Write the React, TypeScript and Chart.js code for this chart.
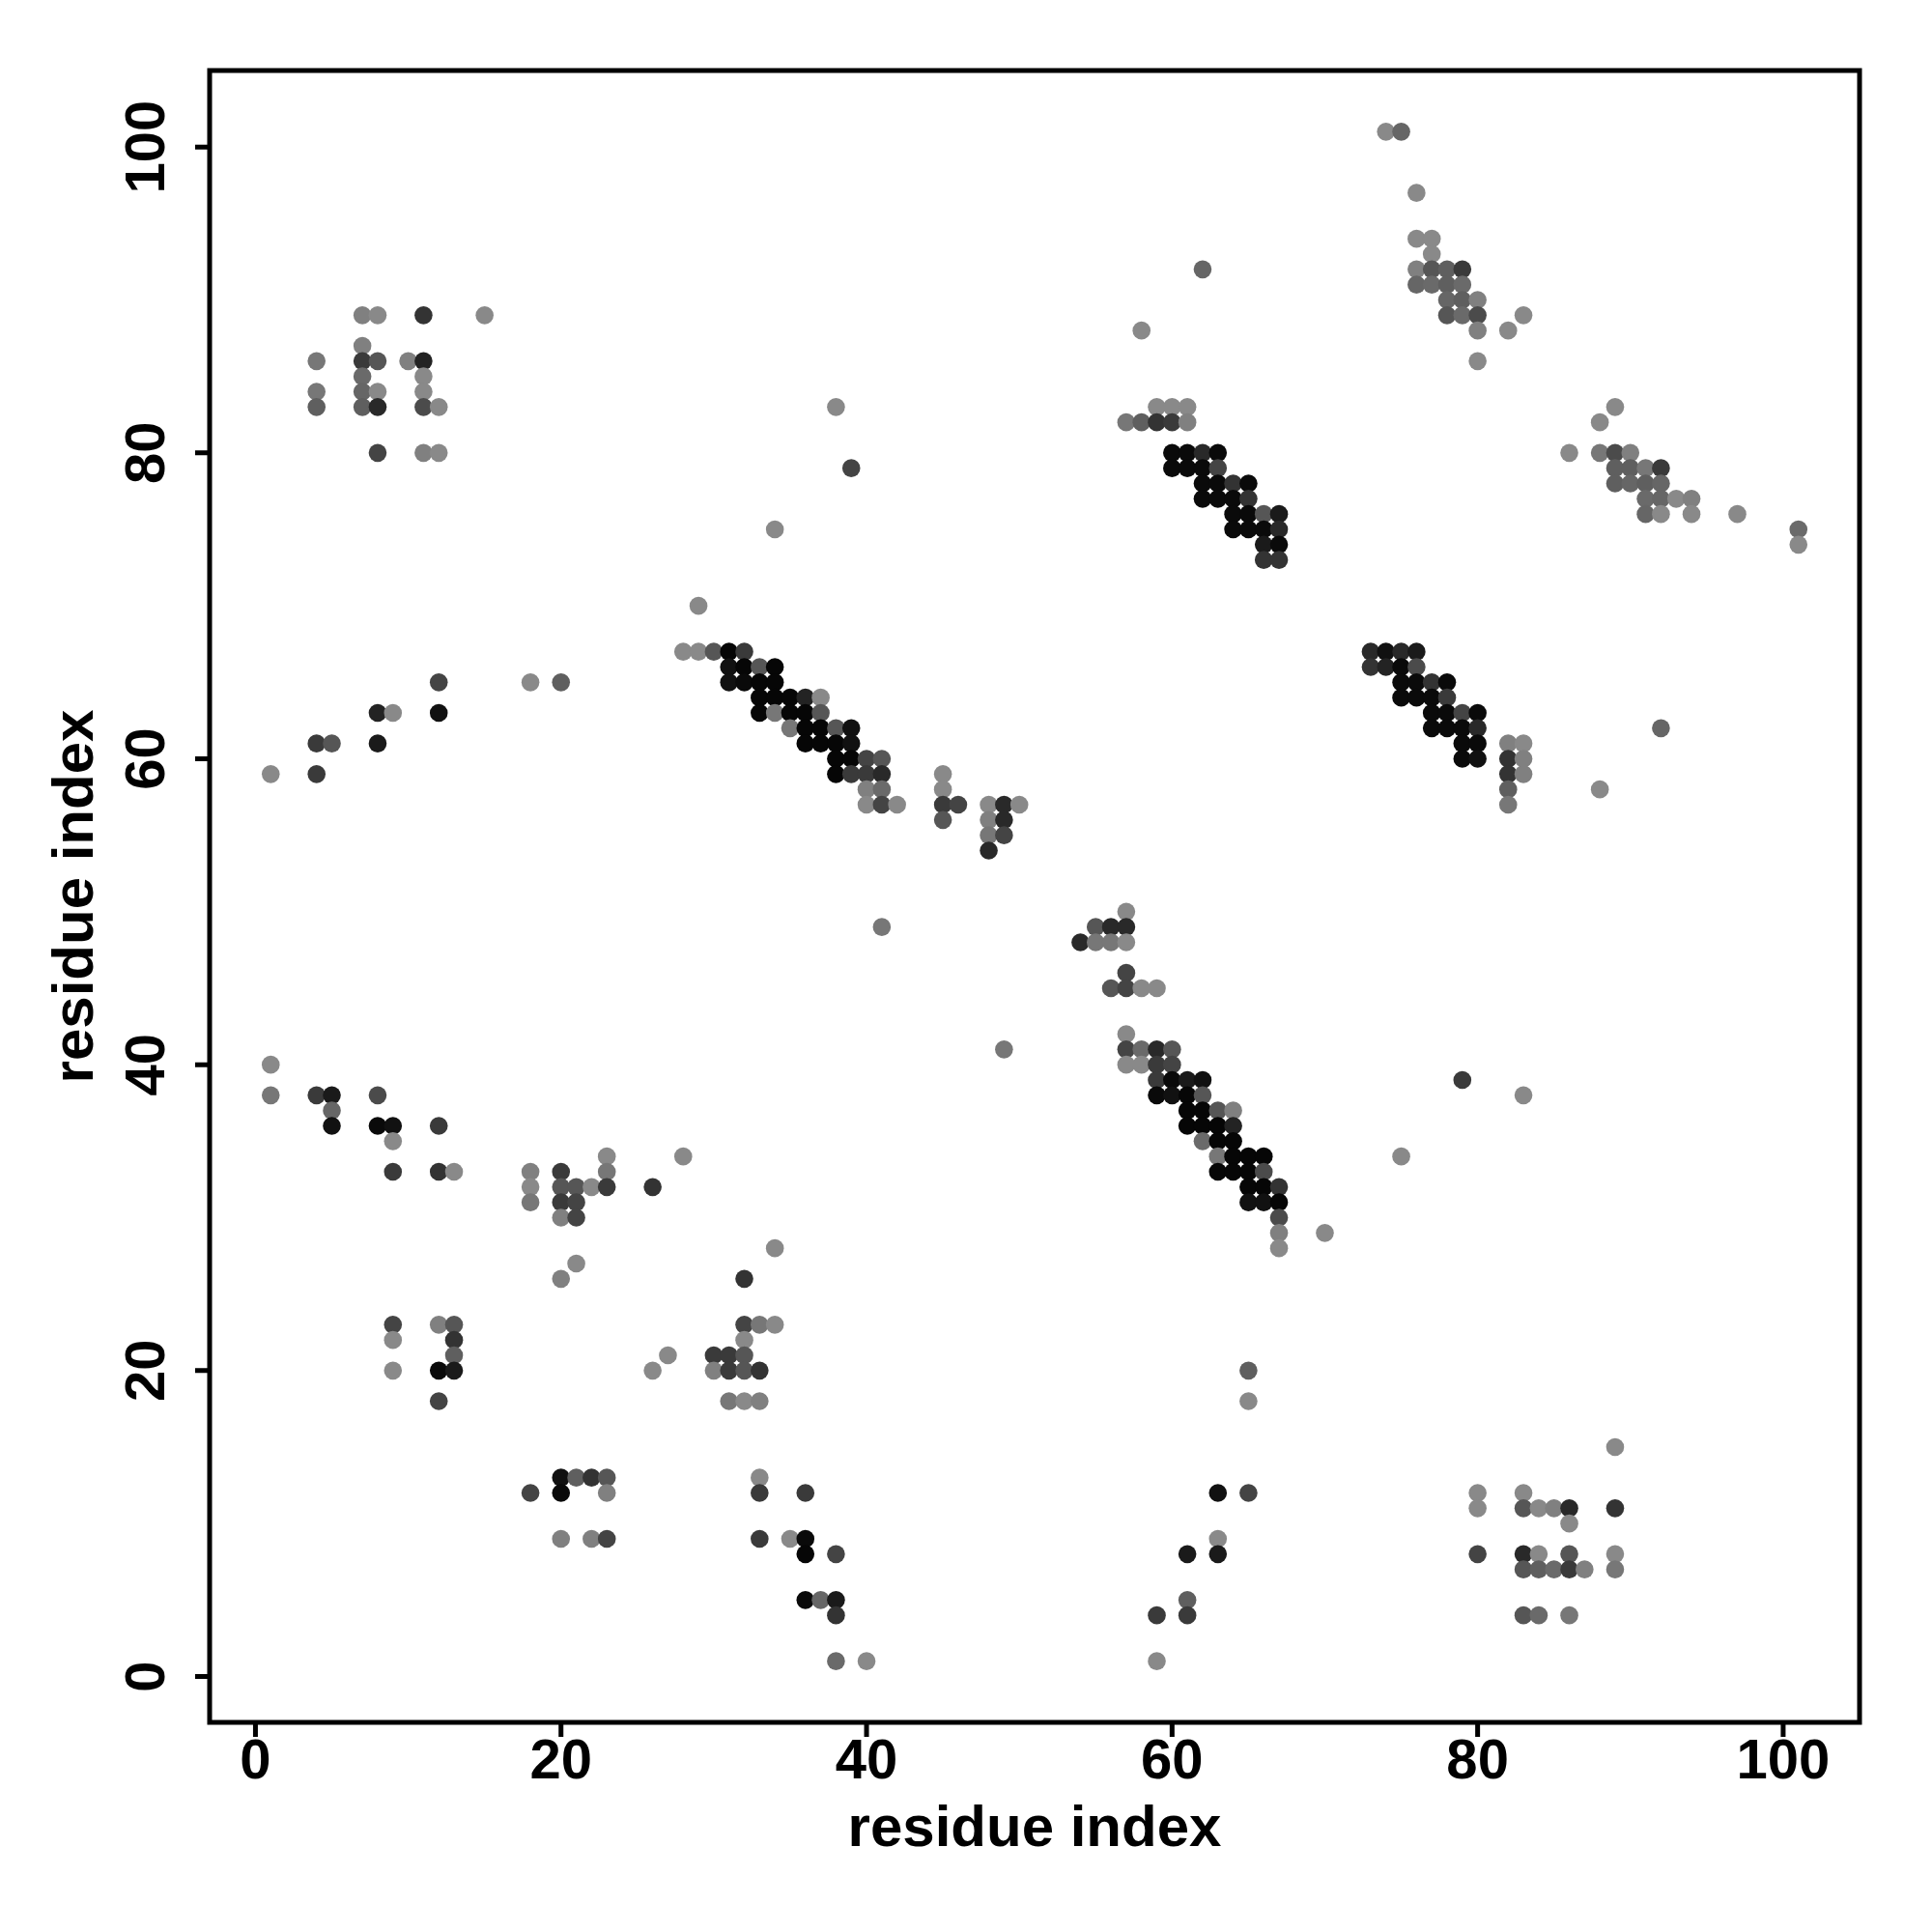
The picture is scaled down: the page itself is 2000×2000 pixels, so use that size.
import React, { useEffect, useRef } from "react";
import { Chart, registerables } from "chart.js";

Chart.register(...registerables);

// [residue i, residue j, contact probability]
type Contact = [number, number, number];

const topLeftBlock: Contact[] = [
  [7, 89, 0.07], [8, 89, 0.01], [11, 89, 0.63], [15, 89, 0.01],
  [7, 87, 0.07],
  [4, 86, 0.14], [7, 86, 0.58], [8, 86, 0.38], [10, 86, 0.07], [11, 86, 0.75],
  [7, 85, 0.23], [11, 85, 0.01],
  [4, 84, 0.14], [7, 84, 0.26], [8, 84, 0.01], [11, 84, 0.01],
  [4, 83, 0.31], [7, 83, 0.31], [8, 83, 0.7], [11, 83, 0.46], [12, 83, 0.01],
  [8, 80, 0.51], [11, 80, 0.07], [12, 80, 0.01],
];

const upperMidBand: Contact[] = [
  [62, 92, 0.26], [58, 88, 0.01],
  [38, 83, 0.01], [59, 83, 0.01], [60, 83, 0.01], [61, 83, 0.01],
  [57, 82, 0.14], [58, 82, 0.31], [59, 82, 0.63], [60, 82, 0.58], [61, 82, 0.07],
  [60, 80, 0.93], [61, 80, 0.93], [62, 80, 0.7], [63, 80, 0.93],
  [39, 79, 0.51], [60, 79, 0.93], [61, 79, 0.93], [62, 79, 0.93], [63, 79, 0.51],
  [62, 78, 0.93], [63, 78, 0.93], [64, 78, 0.63], [65, 78, 0.93],
  [62, 77, 0.93], [63, 77, 0.93], [64, 77, 0.93], [65, 77, 0.63],
  [64, 76, 0.93], [65, 76, 0.93], [66, 76, 0.38], [67, 76, 0.81],
  [64, 75, 0.93], [65, 75, 0.93], [66, 75, 0.93], [67, 75, 0.7],
  [66, 74, 0.81], [67, 74, 0.93],
  [66, 73, 0.63], [67, 73, 0.63],
  [34, 75, 0.01],
];

const topRightBand: Contact[] = [
  [74, 101, 0.01], [75, 101, 0.26],
  [76, 97, 0.01],
  [76, 94, 0.01], [77, 94, 0.01],
  [77, 93, 0.01],
  [76, 92, 0.07], [77, 92, 0.38], [78, 92, 0.31], [79, 92, 0.58],
  [76, 91, 0.26], [77, 91, 0.23], [78, 91, 0.31], [79, 91, 0.23],
  [78, 90, 0.26], [79, 90, 0.31], [80, 90, 0.07],
  [78, 89, 0.38], [79, 89, 0.23], [80, 89, 0.46], [83, 89, 0.01],
  [80, 88, 0.07], [82, 88, 0.01],
  [80, 86, 0.01],
  [89, 83, 0.01], [88, 82, 0.01],
  [86, 80, 0.01], [88, 80, 0.14], [89, 80, 0.46], [90, 80, 0.07],
  [89, 79, 0.31], [90, 79, 0.31], [91, 79, 0.14], [92, 79, 0.58],
  [89, 78, 0.31], [90, 78, 0.26], [91, 78, 0.31], [92, 78, 0.26],
  [91, 77, 0.23], [92, 77, 0.26], [93, 77, 0.01], [94, 77, 0.07],
  [91, 76, 0.26], [92, 76, 0.01], [94, 76, 0.01], [97, 76, 0.01],
  [101, 75, 0.23], [101, 74, 0.01],
];

const rightMidBand: Contact[] = [
  [73, 67, 0.7], [74, 67, 0.88], [75, 67, 0.7], [76, 67, 0.81],
  [73, 66, 0.63], [74, 66, 0.75], [75, 66, 0.93], [76, 66, 0.46],
  [75, 65, 0.93], [76, 65, 0.93], [77, 65, 0.63], [78, 65, 0.93],
  [75, 64, 0.93], [76, 64, 0.93], [77, 64, 0.93], [78, 64, 0.58],
  [77, 63, 0.93], [78, 63, 0.93], [79, 63, 0.51], [80, 63, 0.93],
  [77, 62, 0.93], [78, 62, 0.93], [79, 62, 0.93], [80, 62, 0.7],
  [79, 61, 0.93], [80, 61, 0.93], [82, 61, 0.07], [83, 61, 0.01],
  [79, 60, 0.93], [80, 60, 0.88], [82, 60, 0.63], [83, 60, 0.07],
  [82, 59, 0.63], [83, 59, 0.07],
  [82, 58, 0.31], [88, 58, 0.01],
  [82, 57, 0.14],
  [92, 62, 0.26],
];

const centralBand: Contact[] = [
  [29, 70, 0.01],
  [28, 67, 0.01], [29, 67, 0.01], [30, 67, 0.38], [31, 67, 0.96], [32, 67, 0.58],
  [31, 66, 0.88], [32, 66, 0.96], [33, 66, 0.38], [34, 66, 0.96],
  [31, 65, 0.88], [32, 65, 0.93], [33, 65, 0.96], [34, 65, 0.96],
  [33, 64, 0.96], [34, 64, 0.96], [35, 64, 0.96], [36, 64, 0.75], [37, 64, 0.01],
  [33, 63, 0.96], [34, 63, 0.14], [35, 63, 0.96], [36, 63, 0.96], [37, 63, 0.38],
  [35, 62, 0.14], [36, 62, 0.96], [37, 62, 0.96], [38, 62, 0.38], [39, 62, 0.88],
  [36, 61, 0.96], [37, 61, 0.96], [38, 61, 0.96], [39, 61, 0.88],
  [38, 60, 0.96], [39, 60, 0.96], [40, 60, 0.51], [41, 60, 0.38],
  [38, 59, 0.96], [39, 59, 0.58], [40, 59, 0.58], [41, 59, 0.7],
  [40, 58, 0.07], [41, 58, 0.23],
  [40, 57, 0.01], [41, 57, 0.51], [42, 57, 0.01],
  [45, 59, 0.01], [45, 58, 0.01], [45, 57, 0.58], [46, 57, 0.51], [45, 56, 0.38],
  [48, 57, 0.01], [49, 57, 0.7], [50, 57, 0.01],
  [48, 56, 0.07], [49, 56, 0.7],
  [48, 55, 0.14], [49, 55, 0.51],
  [48, 54, 0.7],
];

const leftMidScatter: Contact[] = [
  [12, 65, 0.51], [18, 65, 0.01], [20, 65, 0.31],
  [8, 63, 0.75], [9, 63, 0.01], [12, 63, 0.88],
  [4, 61, 0.58], [5, 61, 0.38], [8, 61, 0.81],
  [1, 59, 0.01], [4, 59, 0.58],
];

const leftLowerBlock: Contact[] = [
  [1, 40, 0.01],
  [1, 38, 0.14], [4, 38, 0.58], [5, 38, 0.81], [8, 38, 0.46],
  [5, 37, 0.26],
  [5, 36, 0.88], [8, 36, 0.93], [9, 36, 0.88], [12, 36, 0.58],
  [9, 35, 0.01],
  [9, 33, 0.58], [12, 33, 0.63], [13, 33, 0.01],
  [23, 34, 0.01], [28, 34, 0.01],
  [18, 33, 0.07], [20, 33, 0.58], [23, 33, 0.14],
  [18, 32, 0.01], [20, 32, 0.38], [21, 32, 0.38], [22, 32, 0.01], [23, 32, 0.58], [26, 32, 0.63],
  [18, 31, 0.14], [20, 31, 0.58], [21, 31, 0.51],
  [20, 30, 0.07], [21, 30, 0.51],
  [21, 27, 0.01],
  [20, 26, 0.07], [32, 26, 0.63],
];

const bottomLeftBlock: Contact[] = [
  [9, 23, 0.51], [12, 23, 0.07], [13, 23, 0.38],
  [9, 22, 0.01], [13, 22, 0.63],
  [13, 21, 0.31],
  [9, 20, 0.01], [12, 20, 0.93], [13, 20, 0.81],
  [12, 18, 0.51],
  [27, 21, 0.01], [26, 20, 0.01],
  [32, 23, 0.51], [33, 23, 0.14], [34, 23, 0.01],
  [32, 22, 0.01],
  [30, 21, 0.58], [31, 21, 0.58], [32, 21, 0.38],
  [30, 20, 0.07], [31, 20, 0.58], [32, 20, 0.38], [33, 20, 0.63],
  [31, 18, 0.14], [32, 18, 0.01], [33, 18, 0.07],
  [20, 13, 0.88], [21, 13, 0.31], [22, 13, 0.63], [23, 13, 0.38],
  [18, 12, 0.51], [20, 12, 0.93], [23, 12, 0.07],
  [20, 9, 0.07], [22, 9, 0.07], [23, 9, 0.51],
  [33, 13, 0.01], [33, 12, 0.58], [33, 9, 0.58],
];

const bottomMidBlock: Contact[] = [
  [35, 9, 0.01], [36, 12, 0.58],
  [36, 9, 0.93], [36, 8, 0.96], [38, 8, 0.51],
  [36, 5, 0.93], [37, 5, 0.26], [38, 5, 0.81],
  [38, 4, 0.63],
  [38, 1, 0.23], [40, 1, 0.01],
  [65, 20, 0.31], [65, 18, 0.01],
  [63, 12, 0.88], [65, 12, 0.51],
  [63, 9, 0.01],
  [61, 8, 0.81], [63, 8, 0.81],
  [61, 5, 0.31],
  [59, 4, 0.58], [61, 4, 0.58],
  [59, 1, 0.01],
];

const bottomRightBlock: Contact[] = [
  [89, 15, 0.01],
  [80, 12, 0.01], [83, 12, 0.01],
  [80, 11, 0.01], [83, 11, 0.38], [84, 11, 0.01], [85, 11, 0.07], [86, 11, 0.7], [89, 11, 0.63],
  [86, 10, 0.01],
  [80, 8, 0.51], [83, 8, 0.7], [84, 8, 0.01], [86, 8, 0.38], [89, 8, 0.01],
  [83, 7, 0.38], [84, 7, 0.31], [85, 7, 0.23], [86, 7, 0.58], [87, 7, 0.07], [89, 7, 0.14],
  [83, 4, 0.38], [84, 4, 0.23], [86, 4, 0.14],
];

const lowerMidBand: Contact[] = [
  [41, 49, 0.14],
  [57, 50, 0.01],
  [55, 49, 0.38], [56, 49, 0.7], [57, 49, 0.7],
  [54, 48, 0.7], [55, 48, 0.14], [56, 48, 0.14], [57, 48, 0.01],
  [57, 46, 0.51],
  [56, 45, 0.38], [57, 45, 0.51], [58, 45, 0.01], [59, 45, 0.01],
  [49, 41, 0.14],
  [57, 42, 0.01],
  [57, 41, 0.51], [58, 41, 0.23], [59, 41, 0.7], [60, 41, 0.38],
  [57, 40, 0.01], [58, 40, 0.01], [59, 40, 0.58], [60, 40, 0.51],
  [59, 39, 0.58], [60, 39, 0.93], [61, 39, 0.81], [62, 39, 0.88],
  [59, 38, 0.93], [60, 38, 0.88], [61, 38, 0.96], [62, 38, 0.38],
  [61, 37, 0.96], [62, 37, 0.96], [63, 37, 0.38], [64, 37, 0.07],
  [61, 36, 0.96], [62, 36, 0.96], [63, 36, 0.96], [64, 36, 0.75],
  [62, 35, 0.23], [63, 35, 0.96], [64, 35, 0.96],
  [63, 34, 0.14], [64, 34, 0.96], [65, 34, 0.96], [66, 34, 0.96],
  [63, 33, 0.96], [64, 33, 0.96], [65, 33, 0.96], [66, 33, 0.46],
  [65, 32, 0.96], [66, 32, 0.96], [67, 32, 0.63],
  [65, 31, 0.88], [66, 31, 0.88], [67, 31, 0.96],
  [67, 30, 0.46], [67, 29, 0.07], [67, 28, 0.01], [34, 28, 0.01],
];

const rightSparse: Contact[] = [
  [79, 39, 0.58], [83, 38, 0.01], [75, 34, 0.01], [70, 29, 0.01],
];

const xTicks = [0, 20, 40, 60, 80, 100];
const yTicks = [0, 20, 40, 60, 80, 100];
const xTitle = "residue index";
const yTitle = "residue index";
const axisMin = -3;
const axisMax = 105;

const allContacts: Contact[] = [
  ...topLeftBlock, ...upperMidBand, ...topRightBand, ...rightMidBand,
  ...centralBand, ...leftMidScatter, ...leftLowerBlock, ...bottomLeftBlock,
  ...bottomMidBlock, ...bottomRightBlock, ...lowerMidBand, ...rightSparse,
];

function greyFor(p: number): string {
  const g = Math.round(138 * (1 - p));
  return `rgb(${g},${g},${g})`;
}

const TICK_FONT = 'bold 58px "Liberation Sans", Arial, Helvetica, sans-serif';
const TITLE_FONT = 'bold 60px "Liberation Sans", Arial, Helvetica, sans-serif';
const TICK_LEN = 15;

const rAxesPlugin = {
  id: "rAxes",
  afterDraw(chart: any) {
    const { ctx, chartArea: a, scales } = chart;
    const xs = scales.x;
    const ys = scales.y;
    ctx.save();
    ctx.strokeStyle = "#000";
    ctx.lineWidth = 5;
    ctx.lineCap = "butt";
    ctx.strokeRect(a.left, a.top, a.right - a.left, a.bottom - a.top);
    ctx.beginPath();
    xTicks.forEach((v) => {
      const px = xs.getPixelForValue(v);
      ctx.moveTo(px, a.bottom);
      ctx.lineTo(px, a.bottom + TICK_LEN);
    });
    yTicks.forEach((v) => {
      const py = ys.getPixelForValue(v);
      ctx.moveTo(a.left, py);
      ctx.lineTo(a.left - TICK_LEN, py);
    });
    ctx.stroke();

    ctx.fillStyle = "#000";
    ctx.font = TICK_FONT;
    ctx.textAlign = "center";
    ctx.textBaseline = "alphabetic";
    xTicks.forEach((v) => {
      ctx.fillText(String(v), xs.getPixelForValue(v), a.bottom + 58);
    });
    yTicks.forEach((v) => {
      ctx.save();
      ctx.translate(a.left - 47, ys.getPixelForValue(v));
      ctx.rotate(-Math.PI / 2);
      ctx.fillText(String(v), 0, 0);
      ctx.restore();
    });
    // axis titles
    ctx.font = TITLE_FONT;
    ctx.fillText(xTitle, (a.left + a.right) / 2, a.bottom + 128);
    ctx.save();
    ctx.translate(a.left - 121, (a.top + a.bottom) / 2);
    ctx.rotate(-Math.PI / 2);
    ctx.fillText(yTitle, 0, 0);
    ctx.restore();
    ctx.restore();
  },
};

export default function App() {
  const canvasRef = useRef<HTMLCanvasElement | null>(null);

  useEffect(() => {
    const canvas = canvasRef.current;
    if (!canvas) return;
    const points = allContacts.map((c) => ({ x: c[0], y: c[1] }));
    const colors = allContacts.map((c) => greyFor(c[2]));
    const chart = new Chart(canvas, {
      type: "scatter",
      data: {
        datasets: [
          {
            data: points,
            backgroundColor: colors,
            borderColor: colors,
            pointBackgroundColor: colors,
            pointBorderColor: colors,
            pointBorderWidth: 0,
            borderWidth: 0,
            pointRadius: 9.3,
            pointHoverRadius: 9.3,
          },
        ],
      },
      options: {
        animation: false,
        responsive: false,
        maintainAspectRatio: false,
        devicePixelRatio: 1,
        layout: { padding: { left: 217, top: 73, right: 75, bottom: 217 } },
        scales: {
          x: { type: "linear", min: axisMin, max: axisMax, display: false },
          y: { type: "linear", min: axisMin, max: axisMax, display: false },
        },
        plugins: {
          legend: { display: false },
          tooltip: { enabled: false },
        },
      },
      plugins: [rAxesPlugin],
    });
    return () => chart.destroy();
  }, []);

  return (
    <div style={{ position: "absolute", left: 0, top: 0, width: 2000, height: 2000, background: "#fff" }}>
      <canvas ref={canvasRef} width={2000} height={2000} style={{ width: 2000, height: 2000 }} />
    </div>
  );
}
